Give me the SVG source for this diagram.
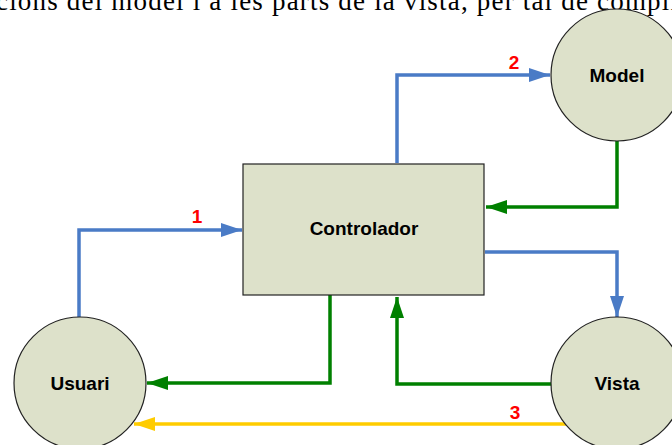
<svg xmlns="http://www.w3.org/2000/svg" width="672" height="445" viewBox="0 0 672 445">
<style>
.node{fill:#dde1ca;stroke:#222;stroke-width:1.2}
.lbl{font-family:"Liberation Sans",Arial,sans-serif;font-weight:bold;font-size:19px;fill:#000;text-anchor:middle;dominant-baseline:central}
.num{font-family:"Liberation Sans",Arial,sans-serif;font-weight:bold;font-size:19px;fill:#ff0000;text-anchor:middle}
.c{fill:none;stroke-width:3.5}
.blue{stroke:#4a7bc6}
.green{stroke:#008000}
.yellow{stroke:#ffcc00}
</style>
<defs>
<marker id="ab" markerWidth="6" markerHeight="4" refX="6" refY="2" orient="auto" markerUnits="strokeWidth"><path d="M0,0 L6,2 L0,4 Z" fill="#4a7bc6"/></marker>
<marker id="ag" markerWidth="6" markerHeight="4" refX="6" refY="2" orient="auto" markerUnits="strokeWidth"><path d="M0,0 L6,2 L0,4 Z" fill="#008000"/></marker>
<marker id="ay" markerWidth="6" markerHeight="4" refX="6" refY="2" orient="auto" markerUnits="strokeWidth"><path d="M0,0 L6,2 L0,4 Z" fill="#ffcc00"/></marker>
</defs>
<rect width="672" height="445" fill="#fff"/>
<text x="-4" y="10" font-family="Liberation Serif,'Times New Roman',serif" font-size="27" fill="#000" textLength="682" lengthAdjust="spacing">cions del model i a les parts de la vista, per tal de compli</text>
<g id="connectors">
<polyline class="c blue" points="79,317 79,230 242,230" marker-end="url(#ab)"/>
<polyline class="c blue" points="397,163 397,75 550,75" marker-end="url(#ab)"/>
<polyline class="c green" points="617,140 617,207 486,207" marker-end="url(#ag)"/>
<polyline class="c blue" points="485,252 617,252 617,317" marker-end="url(#ab)"/>
<polyline class="c green" points="552,384 397,384 397,297" marker-end="url(#ag)"/>
<polyline class="c green" points="330,295 330,383 147,383" marker-end="url(#ag)"/>
<polyline class="c yellow" points="566,424 134,424" marker-end="url(#ay)"/>
<text class="num" x="197" y="223">1</text>
<text class="num" x="514" y="69">2</text>
<text class="num" x="515" y="419">3</text>
</g>
<g id="controlador"><rect class="node" x="243" y="164" width="241" height="131"/><text class="lbl" x="364" y="228">Controlador</text></g>
<g id="model"><circle class="node" cx="617" cy="75" r="66"/><text class="lbl" x="617" y="75">Model</text></g>
<g id="vista"><circle class="node" cx="617" cy="383" r="66"/><text class="lbl" x="617" y="383">Vista</text></g>
<g id="usuari"><circle class="node" cx="80" cy="383" r="66"/><text class="lbl" x="80" y="383">Usuari</text></g>
</svg>
